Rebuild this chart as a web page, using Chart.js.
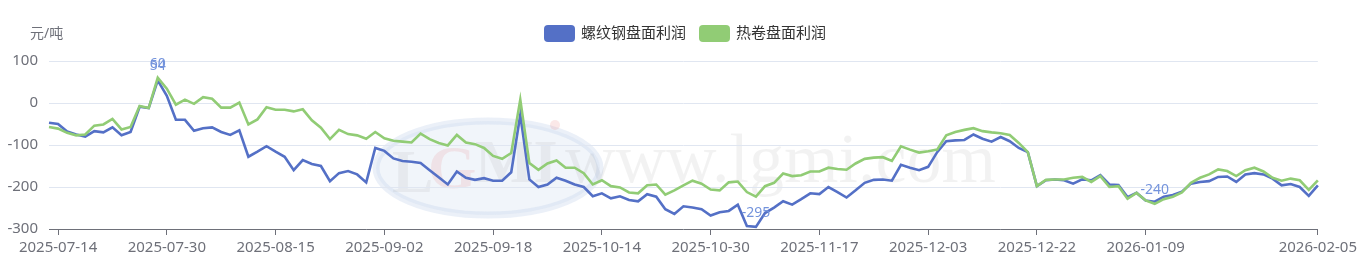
<!DOCTYPE html>
<html>
<head>
<meta charset="utf-8">
<script src="https://cdn.jsdelivr.net/npm/chart.js@4.4.1/dist/chart.umd.min.js"></script>
<style>
html,body{margin:0;padding:0;background:#fff;}
#wrap{width:1361px;height:268px;position:relative;}
</style>
</head>
<body>
<div id="wrap"><canvas id="c" width="1361" height="268"></canvas></div>
<script>
const dates = [
'2025-07-11','2025-07-14','2025-07-15','2025-07-16','2025-07-17','2025-07-18','2025-07-21','2025-07-22','2025-07-23','2025-07-24','2025-07-25','2025-07-28','2025-07-29','2025-07-30','2025-07-31',
'2025-08-01','2025-08-04','2025-08-05','2025-08-06','2025-08-07','2025-08-08','2025-08-11','2025-08-12','2025-08-13','2025-08-14','2025-08-15','2025-08-18','2025-08-19','2025-08-20','2025-08-21','2025-08-22','2025-08-25','2025-08-26','2025-08-27','2025-08-28','2025-08-29',
'2025-09-01','2025-09-02','2025-09-03','2025-09-04','2025-09-05','2025-09-08','2025-09-09','2025-09-10','2025-09-11','2025-09-12','2025-09-15','2025-09-16','2025-09-17','2025-09-18','2025-09-19','2025-09-22','2025-09-23','2025-09-24','2025-09-25','2025-09-26','2025-09-29','2025-09-30',
'2025-10-09','2025-10-10','2025-10-13','2025-10-14','2025-10-15','2025-10-16','2025-10-17','2025-10-20','2025-10-21','2025-10-22','2025-10-23','2025-10-24','2025-10-27','2025-10-28','2025-10-29','2025-10-30','2025-10-31',
'2025-11-03','2025-11-04','2025-11-05','2025-11-06','2025-11-07','2025-11-10','2025-11-11','2025-11-12','2025-11-13','2025-11-14','2025-11-17','2025-11-18','2025-11-19','2025-11-20','2025-11-21','2025-11-24','2025-11-25','2025-11-26','2025-11-27','2025-11-28',
'2025-12-01','2025-12-02','2025-12-03','2025-12-04','2025-12-05','2025-12-08','2025-12-09','2025-12-10','2025-12-11','2025-12-12','2025-12-15','2025-12-16','2025-12-17','2025-12-18','2025-12-22','2025-12-23','2025-12-24','2025-12-25','2025-12-26','2025-12-29','2025-12-30','2025-12-31',
'2026-01-05','2026-01-06','2026-01-07','2026-01-08','2026-01-09','2026-01-12','2026-01-13','2026-01-14','2026-01-15','2026-01-16','2026-01-19','2026-01-20','2026-01-21','2026-01-22','2026-01-23','2026-01-26','2026-01-27','2026-01-28','2026-01-29','2026-01-30',
'2026-02-02','2026-02-03','2026-02-04','2026-02-05'
];

const rebarProfit = [
-47,-50,-68,-75,-80,-67,-70,-58,-77,-69,-9,-12,54,17,-40,
-40,-66,-60,-58,-69,-76,-65,-128,-116,-103,-116,-128,-160,-136,-145,-150,-186,-167,-162,-170,-189,
-107,-114,-132,-138,-140,-143,-160,-177,-194,-163,-178,-183,-179,-185,-185,-165,-28,-182,-200,-194,-178,-185,
-194,-200,-222,-215,-227,-222,-231,-234,-217,-223,-253,-264,-246,-249,-253,-268,-260,
-257,-242,-293,-295,-262,-249,-234,-242,-229,-215,-217,-200,-212,-225,-208,-190,-183,-182,-185,-147,
-154,-160,-152,-117,-91,-89,-88,-75,-85,-92,-81,-91,-107,-117,-198,-184,-182,-184,-192,-182,-184,-172,
-194,-195,-224,-214,-232,-235,-223,-219,-211,-192,-188,-186,-176,-175,-188,-170,-167,-170,-180,-196,
-193,-200,-221,-196
];

const hrcProfit = [
-57,-61,-71,-77,-75,-54,-51,-38,-63,-57,-7,-12,60,34,-4,
8,-2,14,10,-11,-11,1,-51,-39,-10,-16,-16,-20,-15,-41,-59,-86,-64,-74,-77,-85,
-69,-84,-90,-92,-94,-73,-86,-95,-101,-76,-94,-98,-107,-126,-133,-119,8,-143,-159,-144,-137,-154,
-154,-167,-194,-184,-198,-201,-213,-215,-196,-194,-218,-208,-196,-185,-192,-206,-208,
-189,-187,-212,-223,-198,-190,-168,-174,-172,-163,-163,-154,-157,-159,-144,-133,-130,-129,-138,-103,
-111,-118,-115,-111,-77,-69,-64,-60,-67,-70,-72,-76,-95,-117,-198,-183,-182,-182,-178,-176,-188,-174,
-200,-198,-228,-214,-232,-240,-229,-223,-213,-190,-178,-170,-158,-162,-174,-160,-154,-163,-178,-185,
-180,-184,-207,-184
];

const shownTicks = ['2025-07-14','2025-07-30','2025-08-15','2025-09-02','2025-09-18','2025-10-14','2025-10-30','2025-11-17','2025-12-03','2025-12-22','2026-01-09','2026-02-05'];
const yTicks = [100, 0, -100, -200, -300];
const seriesNames = ['螺纹钢盘面利润', '热卷盘面利润'];
const unitLabel = '元/吨';

const BLUE = '#5470c6', GREEN = '#91cc75', AXIS = '#6e7079', GRID = '#e0e6f1', MARK = '#7393dc';
const FONT = '"Noto Sans", "Noto Sans CJK SC", sans-serif';

const watermark = {
  id: 'watermark',
  beforeDraw(chart) {
    const ctx = chart.ctx;
    ctx.save();
    // logo ellipse
    ctx.beginPath();
    ctx.ellipse(488, 168, 112, 47, 0, 0, Math.PI * 2);
    ctx.fillStyle = 'rgba(205,218,238,0.28)';
    ctx.fill();
    ctx.lineWidth = 7;
    ctx.strokeStyle = 'rgba(190,205,232,0.30)';
    ctx.stroke();
    ctx.font = 'bold 62px "Liberation Serif", serif';
    ctx.textBaseline = 'alphabetic';
    ctx.fillStyle = 'rgba(150,150,150,0.12)';
    ctx.fillText('L', 392, 192);
    ctx.fillStyle = 'rgba(220,90,90,0.12)';
    ctx.fillText('G', 428, 188);
    ctx.fillStyle = 'rgba(150,150,150,0.12)';
    ctx.fillText('MI', 475, 182);
    ctx.beginPath();
    ctx.arc(555, 125, 5, 0, Math.PI * 2);
    ctx.fillStyle = 'rgba(230,100,100,0.15)';
    ctx.fill();
    ctx.font = '70px "Liberation Serif", serif';
    ctx.fillStyle = 'rgba(0,0,0,0.05)';
    ctx.fillText('www.lgmi.com', 565, 182);
    ctx.restore();
  }
};

const extras = {
  id: 'extras',
  afterDatasetsDraw(chart) {
    const ctx = chart.ctx;
    ctx.save();
    ctx.font = '14px ' + FONT;
    ctx.fillStyle = MARK;
    ctx.textAlign = 'center';
    ctx.textBaseline = 'middle';
    chart.data.datasets.forEach((ds, di) => {
      const meta = chart.getDatasetMeta(di);
      const vals = ds.data;
      const mx = vals.indexOf(Math.max(...vals));
      const mn = vals.indexOf(Math.min(...vals));
      [mx, mn].forEach(idx => {
        const p = meta.data[idx];
        ctx.fillText(String(vals[idx]), p.x, p.y - 14);
      });
    });
    ctx.restore();
  },
  afterDraw(chart) {
    const ctx = chart.ctx;
    ctx.save();
    // unit label
    ctx.font = '14px ' + FONT;
    ctx.fillStyle = AXIS;
    ctx.textAlign = 'left';
    ctx.textBaseline = 'middle';
    ctx.fillText(unitLabel, 30, 34);
    // legend
    const items = [
      {x: 544, color: BLUE, text: seriesNames[0]},
      {x: 699, color: GREEN, text: seriesNames[1]}
    ];
    ctx.font = '15px ' + FONT;
    items.forEach(it => {
      ctx.beginPath();
      ctx.roundRect(it.x, 25, 31, 17, 4);
      ctx.fillStyle = it.color;
      ctx.fill();
      ctx.fillStyle = '#333';
      ctx.fillText(it.text, it.x + 37, 34);
    });
    ctx.restore();
  }
};

new Chart(document.getElementById('c'), {
  type: 'line',
  data: {
    labels: dates,
    datasets: [
      {label: seriesNames[0], data: rebarProfit, borderColor: BLUE, backgroundColor: BLUE, borderWidth: 2.6, pointRadius: 0, tension: 0, order: 2},
      {label: seriesNames[1], data: hrcProfit, borderColor: GREEN, backgroundColor: GREEN, borderWidth: 2.6, pointRadius: 0, tension: 0, order: 1}
    ]
  },
  options: {
    responsive: false,
    animation: false,
    devicePixelRatio: 1,
    layout: {padding: {left: 0, right: 42, top: 61, bottom: 0}},
    plugins: {legend: {display: false}, tooltip: {enabled: false}},
    scales: {
      x: {
        afterFit(s) { s.height = 39; },
        border: {display: true, color: AXIS, width: 1},
        grid: {
          drawOnChartArea: false,
          drawTicks: true,
          tickLength: 6,
          color: (c) => (c.tick && shownTicks.includes(dates[c.index])) ? AXIS : 'rgba(0,0,0,0)'
        },
        ticks: {
          autoSkip: false,
          maxRotation: 0,
          minRotation: 0,
          padding: 4,
          color: AXIS,
          font: {size: 15, family: FONT},
          callback: (v, i) => shownTicks.includes(dates[i]) ? dates[i] : ''
        }
      },
      y: {
        min: yTicks[yTicks.length - 1],
        max: yTicks[0],
        afterFit(s) { s.width = 49; },
        afterBuildTicks(s) { s.ticks = yTicks.map(v => ({value: v})); },
        border: {display: false},
        grid: {color: GRID, drawTicks: false, lineWidth: 1},
        ticks: {color: AXIS, padding: 11, font: {size: 15, family: FONT}}
      }
    }
  },
  plugins: [watermark, extras]
});
</script>
</body>
</html>
